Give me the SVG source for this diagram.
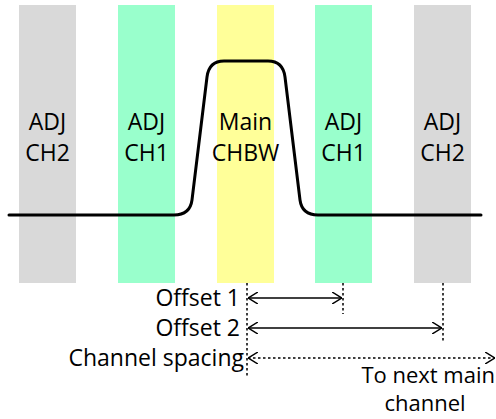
<svg xmlns="http://www.w3.org/2000/svg" width="496" height="419" viewBox="0 0 496 419">
<defs>
<style>
.t{font-family:"Open Sans","Liberation Sans",sans-serif;font-size:23px;fill:#000}
.s{font-size:22px}
.m{text-anchor:middle}
.e{text-anchor:end}
.dot{stroke:#000;stroke-width:1.5;stroke-dasharray:2.5 2.5;fill:none}
.arr{stroke:#000;stroke-width:1.5;fill:none}
</style>
<marker id="ah" viewBox="0 0 10 12" refX="10" refY="6" markerWidth="10" markerHeight="12" markerUnits="userSpaceOnUse" orient="auto-start-reverse">
<path d="M0,0 L10,6 L0,12" fill="none" stroke="#000" stroke-width="1.5"/>
</marker>
</defs>
<rect width="496" height="419" fill="#fff"/>
<g id="adj-ch2-left"><rect x="19" y="5" width="57" height="278" fill="#d9d9d9"/><text class="t m" x="47.5" y="130">ADJ</text><text class="t m" x="47.5" y="161">CH2</text></g>
<g id="adj-ch1-left"><rect x="118" y="5" width="57" height="278" fill="#99ffcc"/><text class="t m" x="146.5" y="130">ADJ</text><text class="t m" x="146.5" y="161">CH1</text></g>
<g id="main-chbw"><rect x="217" y="5" width="57" height="278" fill="#ffff99"/><text class="t m" x="245.5" y="130">Main</text><text class="t m" x="245.5" y="161">CHBW</text></g>
<g id="adj-ch1-right"><rect x="315" y="5" width="57" height="278" fill="#99ffcc"/><text class="t m" x="343.5" y="130">ADJ</text><text class="t m" x="343.5" y="161">CH1</text></g>
<g id="adj-ch2-right"><rect x="414" y="5" width="57" height="278" fill="#d9d9d9"/><text class="t m" x="442.5" y="130">ADJ</text><text class="t m" x="442.5" y="161">CH2</text></g>
<g id="spectrum"><path d="M9,215 L174,215 Q190,215 192,200 L207,77 Q209,61 224,61 L268,61 Q283,61 285,77 L300,200 Q302,215 318,215 L481,215" fill="none" stroke="#000" stroke-width="3" stroke-linejoin="round" stroke-linecap="round"/></g>
<g id="connectors">
<line class="dot" x1="247" y1="283" x2="247" y2="378"/>
<line class="dot" x1="343" y1="283" x2="343" y2="314"/>
<line class="dot" x1="443" y1="283" x2="443" y2="343"/>
<line class="arr" x1="248" y1="298" x2="342" y2="298" marker-start="url(#ah)" marker-end="url(#ah)"/>
<line class="arr" x1="248" y1="328" x2="442" y2="328" marker-start="url(#ah)" marker-end="url(#ah)"/>
<line class="dot" x1="248" y1="358" x2="495" y2="358" marker-start="url(#ah)" marker-end="url(#ah)"/>
</g>
<g id="labels">
<text class="t e" x="240" y="306">Offset 1</text>
<text class="t e" x="240" y="336">Offset 2</text>
<text class="t e" x="244" y="366">Channel spacing</text>
<text class="t s e" x="495" y="383">To next main</text>
<text class="t s m" x="425" y="411">channel</text>
</g>
</svg>
